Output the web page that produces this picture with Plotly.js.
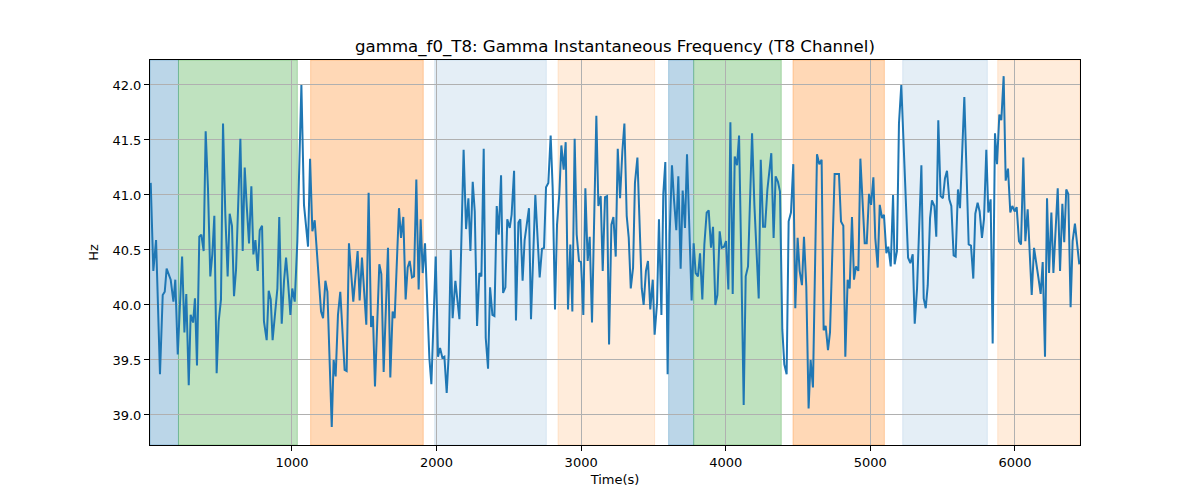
<!DOCTYPE html>
<html>
<head>
<meta charset="utf-8">
<script src="https://cdn.plot.ly/plotly-3.0.1.min.js"></script>
<style>
  body { margin: 0; background: #fff; }
  #plot { width: 1200px; height: 500px; }
</style>
</head>
<body>
<div id="plot"></div>
<script>
// time samples (s) and gamma instantaneous frequency (Hz)
const timeS = [
  23, 41, 60, 87, 106, 120, 133, 147, 161, 180, 193, 210, 240, 256, 269, 286, 299, 316, 329, 343,
  359, 373, 389, 403, 419, 435, 449, 463, 479, 493, 509, 523, 539, 555, 569, 585, 599, 613, 643, 659,
  673, 687, 703, 719, 733, 747, 763, 777, 793, 806, 825, 839, 853, 866, 883, 899, 912, 929, 945, 959,
  972, 989, 1002, 1019, 1037,
  1065, 1083, 1111, 1125, 1141, 1157, 1173, 1201, 1215, 1231, 1245, 1275, 1288, 1302, 1318, 1334, 1364, 1378, 1394, 1424,
  1454, 1468, 1484, 1514, 1530, 1547, 1560, 1574, 1604, 1618, 1634, 1664, 1680, 1696, 1710, 1740, 1754, 1770, 1786, 1800,
  1814, 1830, 1844, 1860, 1876, 1890, 1904, 1920, 1950, 1964, 1994, 2010, 2024, 2040, 2054,
  2070, 2084, 2098, 2111, 2130, 2158, 2187, 2204, 2220, 2234, 2250, 2264, 2280, 2296, 2310, 2326, 2340, 2356, 2370, 2386,
  2400, 2416, 2430, 2446, 2460, 2476, 2489, 2506, 2519, 2536, 2549, 2566, 2579, 2595, 2609, 2639, 2653, 2683, 2699, 2713,
  2729, 2743, 2757, 2773, 2789, 2803, 2819, 2833, 2849, 2863, 2879, 2893, 2909, 2925, 2939, 2955, 2969, 2985, 2999, 3015,
  3029, 3045, 3059, 3075,
  3105, 3119, 3135, 3149, 3165, 3179, 3193, 3209, 3223, 3239, 3253, 3269, 3285, 3299, 3315, 3329, 3343, 3359, 3372, 3389,
  3402, 3419, 3432, 3448, 3462, 3478, 3495, 3508, 3525, 3538, 3555, 3568, 3582, 3598, 3612, 3628, 3642, 3658, 3672, 3688,
  3702, 3718, 3732, 3748, 3764, 3778, 3792, 3808, 3822, 3838, 3852, 3868, 3882, 3898, 3912, 3928, 3942, 3958, 3972, 3988,
  4002, 4018, 4032, 4048, 4062, 4078, 4092, 4108, 4124, 4138, 4154,
  4182, 4198, 4228, 4242, 4258, 4272, 4288, 4315, 4331, 4345, 4361, 4375, 4391, 4405, 4421, 4435, 4451, 4467, 4481, 4497,
  4511, 4527, 4541, 4557, 4573, 4587, 4603, 4631, 4647, 4663, 4677, 4691, 4707, 4721, 4753, 4783, 4797, 4813, 4827, 4843,
  4857, 4873, 4887, 4901, 4917, 4931, 4961, 4975, 4991, 5005, 5021, 5034, 5051, 5065, 5081, 5094, 5111, 5124, 5141, 5157,
  5168, 5184, 5198, 5214, 5261, 5277, 5293, 5307, 5323, 5337, 5353, 5369, 5383, 5397, 5413, 5426, 5443, 5456, 5470, 5486,
  5502, 5516, 5530, 5546, 5560, 5576, 5590, 5606, 5620, 5650, 5680, 5696, 5712, 5726, 5742, 5756, 5772, 5786, 5802, 5816,
  5832, 5846, 5862, 5876, 5892, 5906, 5922, 5936, 5952, 5968, 5982, 5998, 6012, 6028, 6042, 6058, 6072, 6088, 6116, 6132,
  6148, 6162, 6178, 6192, 6208, 6222, 6236, 6252, 6266, 6296, 6312, 6328, 6341, 6355, 6369, 6385, 6399, 6415, 6445
];
const gammaHz = [
  41.11, 40.31, 40.59, 39.37, 40.09, 40.12, 40.33, 40.28, 40.23, 40.03, 40.23, 39.55, 40.44, 39.75, 40.10, 39.27, 39.91, 39.84, 40.06, 39.45,
  40.62, 40.64, 40.49, 41.58, 41.06, 40.26, 40.46, 40.81, 39.38, 39.85, 40.05, 41.65, 40.82, 40.26, 40.83, 40.72, 40.08, 40.32, 41.51, 40.49,
  41.25, 40.90, 40.56, 41.08, 40.46, 40.59, 40.31, 40.68, 40.72, 39.85, 39.68, 40.13, 40.05, 39.68, 39.94, 40.15, 40.80, 39.83, 40.22, 40.43,
  40.22, 39.91, 40.15, 40.03, 40.58,
  42.00, 40.91, 40.53, 41.33, 40.67, 40.77, 40.46, 39.94, 39.88, 40.22, 40.12, 38.89, 39.50, 39.35, 39.91, 40.12, 39.41, 39.40, 40.56, 40.03,
  40.49, 40.04, 40.43, 39.82, 41.02, 39.80, 39.90, 39.26, 40.37, 40.28, 39.39, 40.52, 39.34, 39.94, 39.88, 40.88, 40.61, 40.80, 40.05, 40.34,
  40.40, 40.25, 40.26, 41.14, 40.14, 40.78, 40.29, 40.56, 39.52, 39.28, 40.44, 39.53, 39.61, 39.52, 39.53,
  39.20, 39.55, 40.50, 39.88, 40.22, 39.87, 41.41, 40.69, 40.97, 40.49, 41.12, 40.85, 39.81, 40.29, 40.26, 41.42, 39.70, 39.42, 40.16, 39.91,
  39.90, 40.90, 40.64, 41.18, 40.11, 40.16, 40.78, 40.70, 40.82, 41.22, 39.86, 40.75, 40.78, 40.22, 40.59, 40.88, 39.87, 41.00, 40.58, 40.25,
  40.51, 40.52, 41.07, 41.11, 41.54, 41.06, 39.96, 40.73, 41.01, 41.45, 41.23, 41.48, 39.96, 40.55, 39.94, 41.51, 40.64, 40.40, 40.39, 39.91,
  41.06, 40.40, 40.62, 39.84,
  41.72, 40.90, 40.99, 40.31, 40.98, 40.99, 39.64, 40.73, 40.80, 40.44, 41.42, 40.97, 41.40, 41.65, 40.81, 40.61, 40.15, 40.34, 41.11, 41.34,
  40.82, 40.15, 40.00, 40.31, 40.40, 39.96, 40.23, 39.73, 40.02, 40.78, 39.91, 41.01, 41.30, 39.37, 40.64, 41.27, 40.96, 40.68, 41.17, 40.33,
  41.04, 40.70, 41.37, 40.58, 40.04, 40.56, 40.29, 40.26, 40.47, 40.05, 40.55, 40.84, 40.86, 40.52, 40.71, 40.00, 40.09, 40.67, 40.52, 40.53,
  40.58, 40.14, 41.66, 40.10, 41.35, 41.27, 41.54, 40.36, 39.09, 40.26, 40.35,
  41.56, 40.91, 40.06, 41.32, 40.71, 40.71, 41.05, 41.38, 40.61, 41.17, 41.12, 41.03, 39.78, 39.46, 39.37, 40.76, 40.84, 41.28, 39.97, 40.61,
  40.31, 40.18, 40.62, 40.17, 39.06, 39.50, 39.25, 41.37, 41.28, 41.32, 39.77, 39.81, 39.59, 39.75, 41.19, 41.19, 40.76, 40.72, 39.53, 40.23,
  40.15, 40.80, 40.23, 40.35, 40.31, 41.33, 40.56, 40.56, 41.01, 40.91, 41.16, 40.61, 40.34, 40.91, 40.79, 40.82, 40.47, 40.53, 40.35, 41.00,
  40.37, 40.49, 41.65, 42.00, 40.43, 40.38, 40.46, 39.83, 40.15, 40.62, 41.27, 40.06, 39.97, 40.18, 40.79, 40.95, 40.90, 40.62, 41.68, 40.99,
  40.97, 41.15, 41.22, 40.96, 40.90, 40.45, 40.44, 41.05, 40.88, 41.89, 40.55, 40.54, 40.24, 40.83, 40.93, 40.85, 40.61, 40.78, 41.41, 40.84,
  40.96, 39.65, 41.56, 41.28, 41.73, 41.68, 42.08, 41.13, 41.24, 40.84, 40.90, 40.85, 40.89, 40.58, 40.55, 41.34, 40.58, 40.87, 40.09, 40.52,
  40.35, 40.25, 40.10, 40.39, 39.53, 40.97, 40.29, 40.84, 40.29, 41.06, 40.31, 40.92, 40.57, 41.05, 41.01, 39.98, 40.58, 40.74, 40.37
];

// shaded segments: start, end, colour
const spanStart = [18, 215, 1129, 1987, 2840, 3605, 3778, 4465, 5224, 5881];
const spanEnd = [215, 1037, 1908, 2759, 3508, 3778, 4384, 5097, 5809, 6450];
const spanColor = [
  'rgba(31,119,180,0.3)', 'rgba(44,160,44,0.3)', 'rgba(255,127,14,0.3)',
  'rgba(31,119,180,0.12)', 'rgba(255,127,14,0.15)',
  'rgba(31,119,180,0.3)', 'rgba(44,160,44,0.3)', 'rgba(255,127,14,0.3)',
  'rgba(31,119,180,0.12)', 'rgba(255,127,14,0.15)'
];

const xTicks = [1000, 2000, 3000, 4000, 5000, 6000];
const yTicks = [39.0, 39.5, 40.0, 40.5, 41.0, 41.5, 42.0];

const shapes = spanStart.map((s, i) => ({
  type: 'rect',
  xref: 'x',
  yref: 'paper',
  x0: s,
  x1: spanEnd[i],
  y0: 0,
  y1: 1,
  fillcolor: spanColor[i],
  line: { color: spanColor[i], width: 1 },
  layer: 'below',
}));

const trace = {
  x: timeS,
  y: gammaHz,
  mode: 'lines',
  type: 'scatter',
  line: { color: '#1f77b4', width: 2 },
  hoverinfo: 'skip',
};

const layout = {
  width: 1200,
  height: 500,
  font: { family: 'DejaVu Sans', size: 13, color: '#000' },
  title: {
    text: 'gamma_f0_T8: Gamma Instantaneous Frequency (T8 Channel)',
    font: { size: 16.6, color: '#000' },
    x: 0.5125,
    xanchor: 'center',
    y: 0.908,
    yanchor: 'middle',
  },
  xaxis: {
    range: [18, 6450],
    tickvals: xTicks,
    ticks: 'outside',
    ticklen: 5,
    tickcolor: '#000',
    showgrid: true,
    gridcolor: '#b0b0b0',
    gridwidth: 1,
    zeroline: false,
    showline: true,
    linecolor: '#000',
    linewidth: 1,
    mirror: true,
    title: { text: 'Time(s)', font: { size: 13 }, standoff: 6 },
  },
  yaxis: {
    range: [38.727, 42.227],
    tickvals: yTicks,
    tickformat: '.1f',
    ticks: 'outside',
    ticklen: 5,
    tickcolor: '#000',
    showgrid: true,
    gridcolor: '#b0b0b0',
    gridwidth: 1,
    zeroline: false,
    showline: true,
    linecolor: '#000',
    linewidth: 1,
    mirror: true,
    title: { text: 'Hz', font: { size: 13 }, standoff: 10 },
  },
  shapes: shapes,
  showlegend: false,
  plot_bgcolor: '#fff',
  paper_bgcolor: '#fff',
  margin: { l: 150, r: 120, t: 60, b: 55 },
};

const config = {
  staticPlot: true,
  displayModeBar: false,
};

Plotly.newPlot('plot', [trace], layout, config);
</script>
</body>
</html>
